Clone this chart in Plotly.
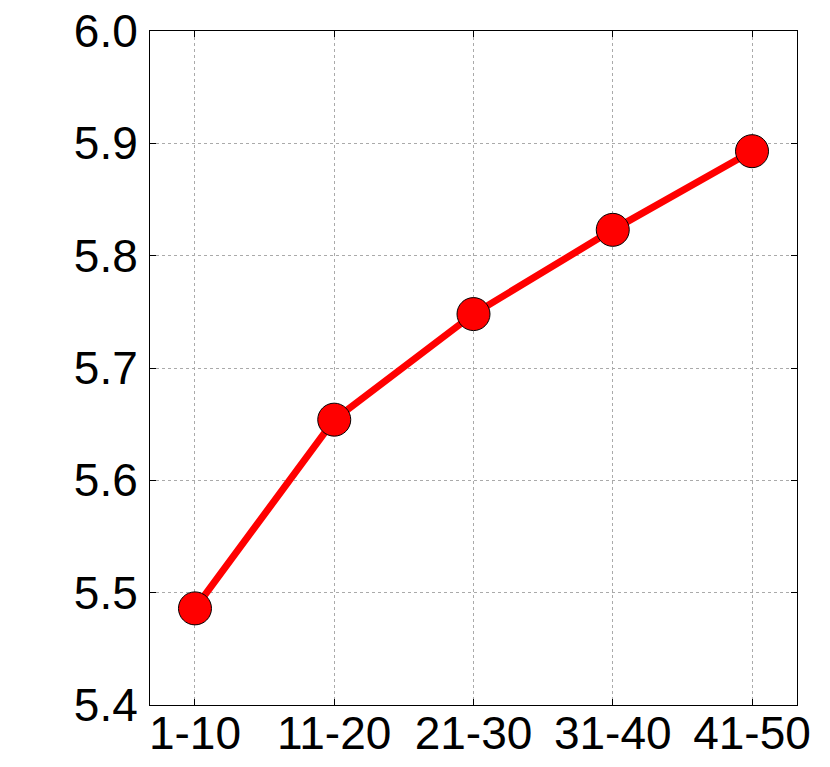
import plotly.graph_objects as go

categories = ["1-10", "11-20", "21-30", "31-40", "41-50"]
values = [5.486, 5.654, 5.748, 5.823, 5.893]
y_ticks = [5.4, 5.5, 5.6, 5.7, 5.8, 5.9, 6.0]
y_tick_labels = ["5.4", "5.5", "5.6", "5.7", "5.8", "5.9", "6.0"]

fig = go.Figure()
fig.add_trace(go.Scatter(
    x=list(range(len(categories))), y=values,
    mode="lines+markers",
    line=dict(color="#ff0000", width=7),
    marker=dict(size=33, color="#ff0000", line=dict(color="#000000", width=1)),
    showlegend=False,
))

fig.update_layout(
    width=822, height=759,
    margin=dict(l=142, r=33, t=23, b=62, autoexpand=False),
    plot_bgcolor="white", paper_bgcolor="white",
    font=dict(family="Liberation Sans, Arial, sans-serif", size=46, color="black"),
)
fig.update_xaxes(
    range=[-0.323, 4.323],
    tickmode="array", tickvals=list(range(len(categories))), ticktext=categories,
    showgrid=True, gridcolor="#aaaaaa", griddash="dot", gridwidth=1,
    showline=True, linecolor="black", linewidth=1, mirror="ticks",
    ticks="inside", ticklen=6, tickcolor="black",
    zeroline=False, tickfont=dict(size=46), automargin=False,
    ticklabeloverflow="allow", ticklabelstandoff=-12,
)
fig.update_yaxes(
    range=[5.4, 6.0],
    tickmode="array", tickvals=y_ticks, ticktext=y_tick_labels,
    showgrid=True, gridcolor="#aaaaaa", griddash="dot", gridwidth=1,
    showline=True, linecolor="black", linewidth=1, mirror="ticks",
    ticks="inside", ticklen=6, tickcolor="black",
    zeroline=False, tickfont=dict(size=46), automargin=False,
    ticklabeloverflow="allow", ticklabelstandoff=2,
)

fig.write_html("out.html")
